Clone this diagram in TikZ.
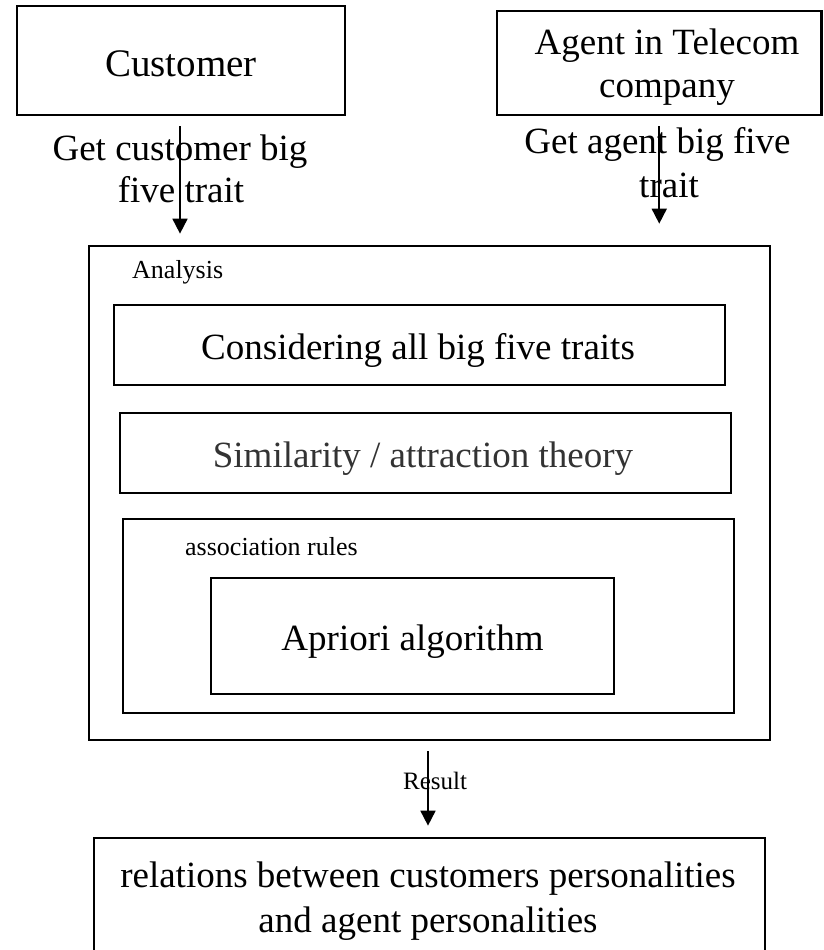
\documentclass[tikz,border=0pt]{standalone}
\usepackage{fontspec}
\setmainfont{Liberation Serif}
\usetikzlibrary{arrows.meta}
\begin{document}
\begin{tikzpicture}[x=1pt,y=-1pt,
  box/.style={draw, line width=2.7pt, rectangle, inner sep=0pt},
  big/.style={font=\fontsize{37}{42}\selectfont, inner sep=0pt},
  small/.style={font=\fontsize{26}{30}\selectfont, inner sep=0pt},
  arr/.style={line width=1.8pt, -{Triangle[length=15pt,width=15pt]}}]
\useasboundingbox (0,0) rectangle (823,950);
\clip (0,0) rectangle (823,950);
% boxes
\node[box, minimum width=328pt, minimum height=109pt] (cust) at (181,60.5) {};
\node[box, minimum width=324.5pt, minimum height=104pt] (agent) at (659.25,63) {};
\node[box, minimum width=681pt, minimum height=494pt] (ana) at (429.5,493) {};
\node[box, minimum width=611pt, minimum height=80pt] (cons) at (419.5,345) {};
\node[box, minimum width=611pt, minimum height=80pt] (sim) at (425.5,453) {};
\node[box, minimum width=611pt, minimum height=194pt] (assoc) at (428.5,616) {};
\node[box, minimum width=403pt, minimum height=116pt] (apri) at (412.5,636) {};
\node[box, minimum width=671pt, minimum height=122pt] (res) at (429.5,899) {};
% texts
\node[big, font=\fontsize{39}{42}\selectfont, anchor=base] (custt) at (181,76) {Customer};
\node[big, anchor=base] (agentt1) at (667,55) {Agent in Telecom};
\node[big, anchor=base] (agentt2) at (667,97) {company};
\node[small, anchor=base west] (anat) at (132,278) {Analysis};
\node[big, anchor=base] (const) at (418,359) {Considering all big five traits};
\node[big, anchor=base, text=black!80] (simt) at (423,467) {Similarity / attraction theory};
\node[small, anchor=base west] (assoct) at (185,555) {association rules};
\node[big, anchor=base] (aprit) at (412.5,650) {Apriori algorithm};
\node[big, anchor=base] (rest1) at (428,887) {relations between customers personalities};
\node[big, anchor=base] (rest2) at (428,932) {and agent personalities};
% connectors
\draw[arr, shorten <=10pt, shorten >=11pt] ([xshift=-1pt]cust.south) -- ([xshift=-1pt]cust.south |- ana.north);
\draw[arr, shorten <=10pt, shorten >=21pt] (agent.south) -- (agent.south |- ana.north);
\draw[arr, shorten <=10pt, shorten >=11pt] ([xshift=-1.5pt]ana.south) -- ([xshift=-1.5pt]res.north);
% connector labels
\node[big, anchor=base] (l1a) at (180,160) {Get customer big};
\node[big, anchor=base] (l1b) at (181,202) {five trait};
\node[big, anchor=base] (l2a) at (657.5,153) {Get agent big five};
\node[big, anchor=base] (l2b) at (669,197) {trait};
\node[small, font=\fontsize{25}{30}\selectfont, anchor=base west] (l3) at (403,789) {Result};
\end{tikzpicture}
\end{document}
